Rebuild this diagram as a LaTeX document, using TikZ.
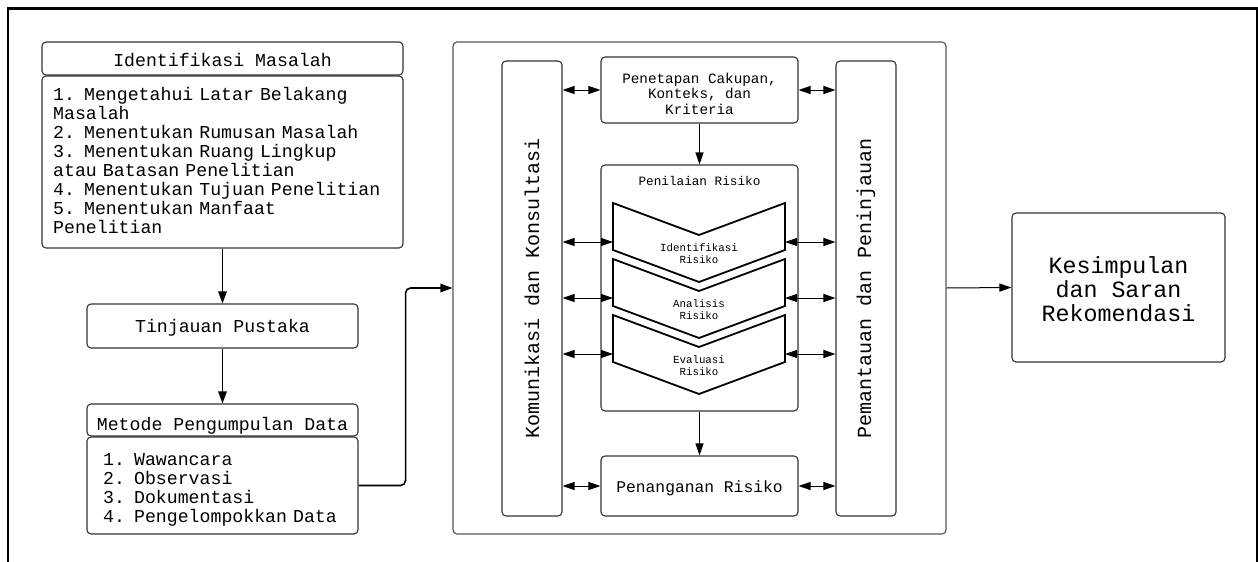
\documentclass[tikz,border=0pt]{standalone}
\usepackage{fontspec}
\usepackage{graphicx}
\setmainfont{Liberation Mono}
\setmonofont{Liberation Mono}
\usetikzlibrary{arrows.meta}
\tikzset{
  box/.style={draw=black!80, line width=1.1pt, rounded corners=4pt, fill=white, inner sep=0pt},
  frame/.style={draw=black!65, line width=1.2pt, rounded corners=4pt, inner sep=0pt},
  arr/.style={-{Triangle[length=12pt,width=8.5pt]}, line width=1.6pt, black},
  thinarr/.style={-{Triangle[length=12pt,width=8pt]}, line width=1.1pt, black},
  darr/.style={{Triangle[length=12pt,width=8pt]}-{Triangle[length=12pt,width=8pt]}, line width=0.9pt, black},
  chev/.style={draw=black, line width=1.8pt, line join=miter},
  outer/.style={draw=black, line width=2.4pt},
  txt/.style={inner sep=0pt}
}
\begin{document}
\begin{tikzpicture}[x=1pt,y=-1pt]
\useasboundingbox (0,0) rectangle (1258,562);
\fill[white] (0,0) rectangle (1258,562);
% outer open frame
\draw[outer] (8,562) -- (8,8.5) -- (1257,8.5) -- (1257,562);

% left column
\node[box, minimum width=361pt, minimum height=33pt, text height=16.4pt, text depth=0pt, font=\fontsize{18.2}{19}\selectfont] (idh) at (222.5,58.5) {Identifikasi Masalah};
\node[box, minimum width=361pt, minimum height=172pt] (idb) at (222.5,162) {};
\node[txt, anchor=base west, text width=345pt, align=left, font=\fontsize{18.2}{19}\selectfont] (idbt) at (53,100) {1. Mengetahui Latar Belakang\\Masalah\\2. Menentukan Rumusan Masalah\\3. Menentukan Ruang Lingkup\\atau Batasan Penelitian\\4. Menentukan Tujuan Penelitian\\5. Menentukan Manfaat\\Penelitian};
\node[box, minimum width=271pt, minimum height=44pt, text height=13.4pt, text depth=0pt, font=\fontsize{18.2}{19}\selectfont] (tin) at (222.5,326) {Tinjauan Pustaka};
\node[box, minimum width=271pt, minimum height=32pt, text height=20pt, text depth=0pt, font=\fontsize{18.2}{19}\selectfont] (meh) at (222.5,420) {Metode Pengumpulan Data};
\node[box, minimum width=271pt, minimum height=97pt] (meb) at (222.5,485.5) {};
\node[txt, anchor=base west, text width=250pt, align=left, font=\fontsize{18.2}{19.33}\selectfont] (mebt) at (103,465) {1. Wawancara\\2. Observasi\\3. Dokumentasi\\4. Pengelompokkan Data};

% main frame
\node[frame, minimum width=493pt, minimum height=492pt] (main) at (699.5,288) {};
\node[box, minimum width=60pt, minimum height=455pt, font=\fontsize{20}{20}\selectfont] (kom) at (532,288.5) {\rotatebox{90}{Komunikasi dan Konsultasi}};
\node[box, minimum width=60pt, minimum height=455pt, font=\fontsize{20}{20}\selectfont] (pem) at (866,288.5) {\rotatebox{90}{Pemantauan dan Peninjauan}};
\node[box, minimum width=197pt, minimum height=66pt] (pen) at (699.5,90) {};
\node[txt, align=center, font=\fontsize{14.3}{15.5}\selectfont] (pent) at (699.5,93.5) {Penetapan Cakupan,\\Konteks, dan\\Kriteria};
\node[box, minimum width=197pt, minimum height=246pt] (nil) at (699.5,288) {};
\node[txt, font=\fontsize{12.7}{13}\selectfont] (nilt) at (699.5,181) {Penilaian Risiko};
\node[box, minimum width=197pt, minimum height=60pt, text height=12pt, text depth=0pt, font=\fontsize{16.3}{17}\selectfont] (han) at (699.5,486) {Penanganan Risiko};

% chevrons
\foreach \t/\a/\n in {203/Identifikasi/1, 259/Analisis/2, 315/Evaluasi/3} {
  \draw[chev, fill=white] (613,\t) -- (699,\t+32) -- (785,\t) -- (785,\t+47) -- (699,\t+79) -- (613,\t+47) -- cycle;
  \node[txt, align=center, font=\fontsize{10.8}{12}\selectfont] (ch\n) at (699,\t+51) {\a\\Risiko};
}
\coordinate (cl1) at (613,242); \coordinate (cr1) at (785,242);
\coordinate (cl2) at (613,298); \coordinate (cr2) at (785,298);
\coordinate (cl3) at (613,354); \coordinate (cr3) at (785,354);

% Kesimpulan
\node[box, minimum width=213pt, minimum height=149pt] (kes) at (1118.5,287.5) {};
\node[txt, align=center, font=\fontsize{23.3}{24}\selectfont] (kest) at (1118.5,289) {Kesimpulan\\dan Saran\\Rekomendasi};

% connectors left column
\draw[arr] (idb.south) -- (tin.north);
\draw[arr] (tin.south) -- (meh.north);
\draw[arr, rounded corners=5pt] (meb.east) -- ++(47,0) |- (main.west);

% inside main
\draw[thinarr] (pen.south) -- (nil.north);
\draw[thinarr] (nil.south) -- (han.north);
\draw[darr] (kom.east |- pen.west) -- (pen.west);
\draw[darr] (pen.east) -- (pem.west |- pen.east);
\draw[darr] (kom.east |- han.west) -- (han.west);
\draw[darr] (han.east) -- (pem.west |- han.east);
\foreach \i in {1,2,3} {
  \draw[darr] (kom.east |- cl\i) -- (cl\i);
  \draw[darr] (cr\i) -- (pem.west |- cr\i);
}

% to conclusion
\draw[thinarr, line width=1pt] (main.east) -- (kes.west);
\end{tikzpicture}
\end{document}
